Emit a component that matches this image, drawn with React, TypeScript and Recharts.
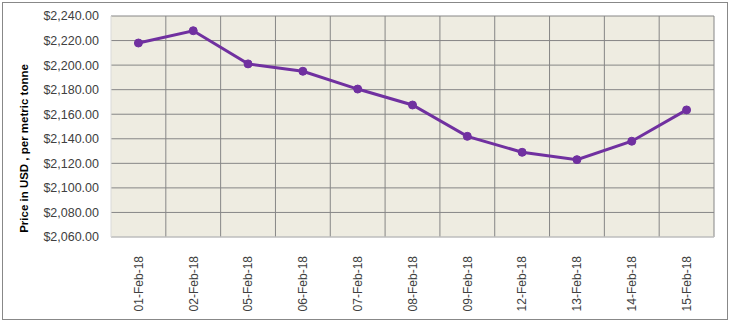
import React from 'react';
import {
  LineChart,
  Line,
  XAxis,
  YAxis,
  CartesianGrid
} from 'recharts';

const dates = [
  '01-Feb-18', '02-Feb-18', '05-Feb-18', '06-Feb-18', '07-Feb-18', '08-Feb-18',
  '09-Feb-18', '12-Feb-18', '13-Feb-18', '14-Feb-18', '15-Feb-18'
];
const prices = [2218, 2228, 2201, 2195, 2180.5, 2167.5, 2142, 2129, 2123, 2138, 2163.5];
const yTicks = [2060, 2080, 2100, 2120, 2140, 2160, 2180, 2200, 2220, 2240];

const data = dates.map((date, i) => ({ date, price: prices[i] }));

const FONT = '"Liberation Sans", Arial, sans-serif';

const fmtUsd = (v: number) =>
  '$' + v.toLocaleString('en-US', { minimumFractionDigits: 2, maximumFractionDigits: 2 });

// rotated date labels, reading bottom to top
const DateTick = (props: any) => {
  const { x, y, payload } = props;
  return (
    <g transform={`translate(${x},${y})`}>
      <text
        transform="rotate(-90)"
        x={-11}
        y={0}
        dy="0.36em"
        textAnchor="end"
        fill="#404040"
        fontSize={12}
        fontFamily={FONT}
      >
        {payload.value}
      </text>
    </g>
  );
};

const AxisTitle = (props: any) => {
  const { viewBox } = props;
  const cx = 28;
  const cy = viewBox.y + viewBox.height / 2 + 22;
  return (
    <text
      transform={`rotate(-90, ${cx}, ${cy})`}
      x={cx}
      y={cy}
      textAnchor="middle"
      fontSize={11.5}
      fontWeight="bold"
      fontFamily={FONT}
      fill="#000"
    >
      Price in USD , per metric tonne
    </text>
  );
};

const App: React.FC = () => {
  return (
    <div style={{ position: 'absolute', left: 0, top: 0, width: 730, height: 321, background: '#fff' }}>
      <div
        style={{
          position: 'absolute',
          left: 2,
          top: 2,
          width: 724,
          height: 316,
          border: '1px solid #888888'
        }}
      />
      <div style={{ position: 'absolute', left: 0, top: 0 }}>
        <LineChart
          width={730}
          height={321}
          data={data}
          margin={{ top: 16, right: 16, left: 11, bottom: 0 }}
        >
          <CartesianGrid
            fill="#EEECE1"
            fillOpacity={1}
            stroke="#868686"
            strokeWidth={1}
            verticalCoordinatesGenerator={({ offset }: any) =>
              dates.map((_, i) => offset.left + ((i + 1) * offset.width) / dates.length)
            }
          />
          <XAxis
            dataKey="date"
            scale="band"
            interval={0}
            tickLine={false}
            axisLine={{ stroke: '#D9D9D9' }}
            tick={<DateTick />}
            height={84}
          />
          <YAxis
            domain={[2060, 2240]}
            ticks={yTicks}
            interval={0}
            width={100}
            tickLine={false}
            tickSize={0}
            tickMargin={12}
            axisLine={{ stroke: '#D9D9D9' }}
            tickFormatter={fmtUsd}
            tick={{ fill: '#404040', fontSize: 12.5, fontFamily: FONT }}
            label={<AxisTitle />}
          />
          <Line
            type="linear"
            dataKey="price"
            stroke="#7030A0"
            strokeWidth={3}
            dot={{ r: 4, fill: '#7030A0', stroke: '#7030A0', strokeWidth: 1 }}
            isAnimationActive={false}
          />
        </LineChart>
      </div>
    </div>
  );
};

export default App;
